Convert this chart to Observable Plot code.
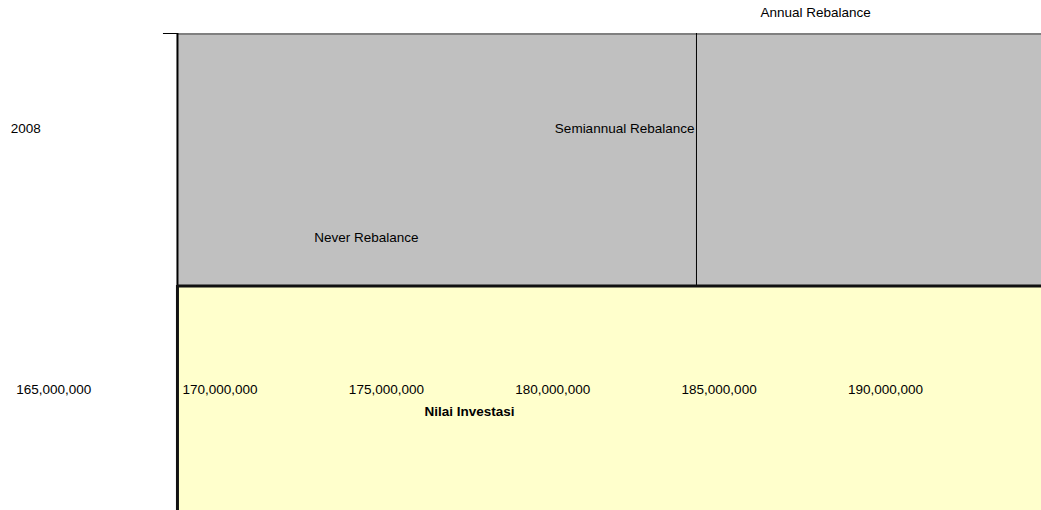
<!DOCTYPE html>
<html>
<head>
<meta charset="utf-8">
<script src="https://cdn.jsdelivr.net/npm/d3@7"></script>
<script src="https://cdn.jsdelivr.net/npm/@observablehq/plot@0.6"></script>
<style>
  html, body { margin: 0; padding: 0; background: #ffffff; }
  #chart svg { display: block; }
</style>
</head>
<body>
<div id="chart"></div>
<script>
// Category and series of the investment-value bar chart
const categories = ["2008"];
const seriesNames = ["Never Rebalance", "Semiannual Rebalance", "Annual Rebalance"];
const seriesValues = [174.4e6, 184.32e6, 187.9e6];
const tickValues = [165e6, 170e6, 175e6, 180e6, 185e6, 190e6];
const axisTitle = "Nilai Investasi";
const plotStart = 168.72e6;   // left edge of the plot area on the value axis
const plotEnd = 195e6;

const fmt = d3.format(",");
const font = "Liberation Sans, Arial, Helvetica, sans-serif";

// vertical layout rows (top to bottom)
const rowTop = 33, rowSplit = 285, rowBottom = 510;
const rowAnnual = 12, rowCategory = 128, rowNever = 237, rowTicks = 389, rowTitle = 411;

const labelRows = [rowNever, rowCategory, rowAnnual];
const labels = seriesNames.map((name, i) => ({name, value: seriesValues[i], row: labelRows[i]}));

const chart = Plot.plot({
  width: 1041,
  height: 510,
  margin: 0,
  style: {background: "#ffffff", fontFamily: font, fontSize: "13.5px", color: "#000"},
  x: {type: "linear", domain: [165e6, 195e6], range: [53.2, 53.2 + 6 * 166.35], axis: null},
  y: {type: "linear", domain: [0, 510], range: [0, 510], axis: null},
  marks: [
    // plot area (grey) and the band below it (pale yellow)
    Plot.rect([{x1: plotStart, x2: plotEnd, y1: rowTop, y2: rowSplit}],
      {x1: "x1", x2: "x2", y1: "y1", y2: "y2", fill: "#c0c0c0"}),
    Plot.rect([{x1: plotStart, x2: plotEnd, y1: rowSplit, y2: rowBottom}],
      {x1: "x1", x2: "x2", y1: "y1", y2: "y2", fill: "#ffffcc"}),
    // plot area top border
    Plot.ruleY([rowTop + 0.5], {x1: plotStart, x2: plotEnd, stroke: "#808080", strokeWidth: 2}),
    // small tick at the top of the category axis
    Plot.ruleY([rowTop], {x1: plotStart - 14 / 166.35 * 5e6, x2: plotStart, stroke: "#000", strokeWidth: 1}),
    // end of the Semiannual Rebalance bar
    Plot.ruleX([seriesValues[1]], {y1: rowTop, y2: rowSplit, stroke: "#000", strokeWidth: 1}),
    // category axis line
    Plot.ruleX([plotStart], {y1: rowTop, y2: rowSplit, stroke: "#000", strokeWidth: 2}),
    Plot.ruleX([plotStart], {y1: rowSplit, y2: rowBottom, stroke: "#111", strokeWidth: 3}),
    // value axis line
    Plot.ruleY([rowSplit + 0.5], {x1: plotStart, x2: plotEnd, stroke: "#111", strokeWidth: 3}),
    // series labels
    Plot.text(labels.filter(d => d.name !== "Semiannual Rebalance"),
      {x: "value", y: "row", text: "name", textAnchor: "middle", lineAnchor: "middle", fill: "#000"}),
    Plot.text(labels.filter(d => d.name === "Semiannual Rebalance"),
      {x: "value", y: "row", text: "name", textAnchor: "end", lineAnchor: "middle", dx: -2, fill: "#000"}),
    // category label
    Plot.text(categories, {x: 165e6, y: rowCategory, text: d => d, textAnchor: "start", lineAnchor: "middle", dx: -43, fill: "#000"}),
    // value tick labels
    Plot.text(tickValues, {x: d => d, y: rowTicks, text: d => fmt(d), textAnchor: "middle", lineAnchor: "middle", fill: "#000"}),
    // value axis title
    Plot.text([axisTitle], {x: (tickValues[0] + tickValues[tickValues.length - 1]) / 2, y: rowTitle, text: d => d,
      textAnchor: "middle", lineAnchor: "middle", fontWeight: "bold", fill: "#000"})
  ]
});

document.getElementById("chart").appendChild(chart);
</script>
</body>
</html>
